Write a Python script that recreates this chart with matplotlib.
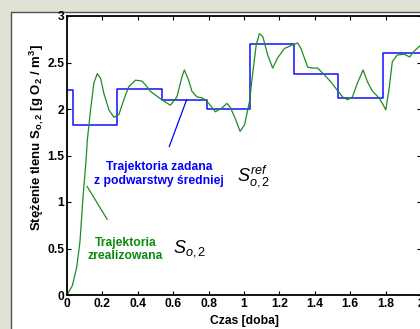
import numpy as np
import matplotlib.pyplot as plt
from matplotlib.patches import Rectangle

plt.rcParams['font.family'] = ['Liberation Sans', 'DejaVu Sans']
plt.rcParams['mathtext.fontset'] = 'custom'
plt.rcParams['mathtext.rm'] = 'Liberation Sans'
plt.rcParams['mathtext.it'] = 'Liberation Sans:italic'
plt.rcParams['mathtext.bf'] = 'Liberation Sans:bold'

# setpoint trajectory (step changes)
ref_t = [0.0, 0.034, 0.28, 0.535, 0.79, 1.035, 1.285, 1.53, 1.785, 2.0]
ref_v = [2.2, 1.83, 2.215, 2.1, 2.0, 2.7, 2.38, 2.12, 2.6, 2.6]

# realized trajectory
real_t = [0.0, 0.0, 0.03, 0.055, 0.073, 0.092, 0.107, 0.115, 0.133, 0.152, 0.171,
          0.19, 0.208, 0.237, 0.265, 0.293, 0.321, 0.349, 0.387, 0.424, 0.452,
          0.471, 0.528, 0.584, 0.621, 0.65, 0.663, 0.687, 0.706, 0.734, 0.762,
          0.781, 0.81, 0.838, 0.875, 0.903, 0.922, 0.95, 0.978, 1.003, 1.031,
          1.05, 1.069, 1.087, 1.106, 1.134, 1.162, 1.19, 1.228, 1.275, 1.303,
          1.322, 1.341, 1.36, 1.388, 1.416, 1.453, 1.491, 1.528, 1.557, 1.585,
          1.613, 1.641, 1.673, 1.698, 1.726, 1.763, 1.782, 1.801, 1.82, 1.838,
          1.866, 1.904, 1.936, 1.96, 1.989, 2.0]
real_v = [2.0, 0.0, 0.1, 0.3, 0.57, 1.09, 1.43, 1.67, 1.99, 2.28, 2.38,
          2.33, 2.17, 1.99, 1.91, 1.94, 2.1, 2.24, 2.31, 2.3, 2.24,
          2.19, 2.11, 2.04, 2.13, 2.35, 2.42, 2.31, 2.19, 2.13, 2.12,
          2.1, 2.04, 1.97, 2.01, 2.06, 2.02, 1.9, 1.76, 1.83, 2.08,
          2.4, 2.69, 2.81, 2.78, 2.58, 2.44, 2.55, 2.65, 2.69, 2.71,
          2.65, 2.55, 2.45, 2.44, 2.44, 2.37, 2.29, 2.2, 2.13, 2.1,
          2.13, 2.28, 2.42, 2.29, 2.19, 2.12, 2.06, 1.99, 2.22, 2.51,
          2.58, 2.59, 2.56, 2.62, 2.67, 2.69]

xticks = [0, 0.2, 0.4, 0.6, 0.8, 1, 1.2, 1.4, 1.6, 1.8, 2]
xlabels = ['0', '0.2', '0.4', '0.6', '0.8', '1', '1.2', '1.4', '1.6', '1.8', '2']
yticks = [0, 0.5, 1, 1.5, 2, 2.5, 3]
ylabels = ['0', '0.5', '1', '1.5', '2', '2.5', '3']

W, H = 420, 329
fig = plt.figure(figsize=(W / 100, H / 100), dpi=100)
fig.patch.set_facecolor('#dfe3d3')
fig.patches.append(Rectangle((11 / W, -0.1), 1.0, (H - 12) / H + 0.1,
                             transform=fig.transFigure, facecolor='white',
                             edgecolor='#505050', linewidth=1.0, zorder=-10))

ax = fig.add_axes([67 / W, (H - 295) / H, (421 - 67) / W, (295 - 16) / H])
ax.set_facecolor('white')

ax.step(ref_t, ref_v, where='post', color='#1010ff', linewidth=1.1)
ax.plot(real_t, real_v, color='#1e8c1e', linewidth=0.9)

ax.set_xlim(0, 2)
ax.set_ylim(0, 3)
ax.set_xticks(xticks)
ax.set_xticklabels(xlabels, fontweight='bold', fontsize=8.7)
ax.set_yticks(yticks)
ax.set_yticklabels(ylabels, fontweight='bold', fontsize=8.7)
ax.tick_params(direction='in', top=True, right=True, length=3, width=0.8, pad=2)
for s in ax.spines.values():
    s.set_linewidth(1.3)

ax.set_xlabel('Czas [doba]', fontweight='bold', fontsize=8.7, labelpad=4)
ax.set_ylabel(r'Stężenie tlenu $\mathbf{S_{o,2}}$ [g O$\mathbf{_2}$ / m$\mathbf{^3}$]',
              fontweight='bold', fontsize=9.5)
ax.yaxis.set_label_coords(-0.06, 0.565)

# annotations
ax.annotate('Trajektoria zadana\nz podwarstwy średniej', xy=(0.676, 2.1),
            xytext=(0.52, 1.3), color='#0000ff', fontweight='bold',
            fontsize=8.7, ha='center', va='center', linespacing=1.2,
            arrowprops=dict(arrowstyle='-', color='#0000ff', lw=0.9,
                            shrinkA=9, shrinkB=0))
ax.text(0.96, 1.28, r'$S_{o,2}^{ref}$', fontsize=13, ha='left', va='center')

ax.annotate('Trajektoria\nzrealizowana', xy=(0.113, 1.17),
            xytext=(0.33, 0.49), color='#0a8a0a', fontweight='bold',
            fontsize=8.7, ha='center', va='center', linespacing=1.2,
            arrowprops=dict(arrowstyle='-', color='#1e8c1e', lw=0.9,
                            shrinkA=12, shrinkB=0))
ax.text(0.6, 0.5, r'$S_{o,2}$', fontsize=13, ha='left', va='center')

fig.savefig('out.png', dpi=100, facecolor=fig.get_facecolor())
